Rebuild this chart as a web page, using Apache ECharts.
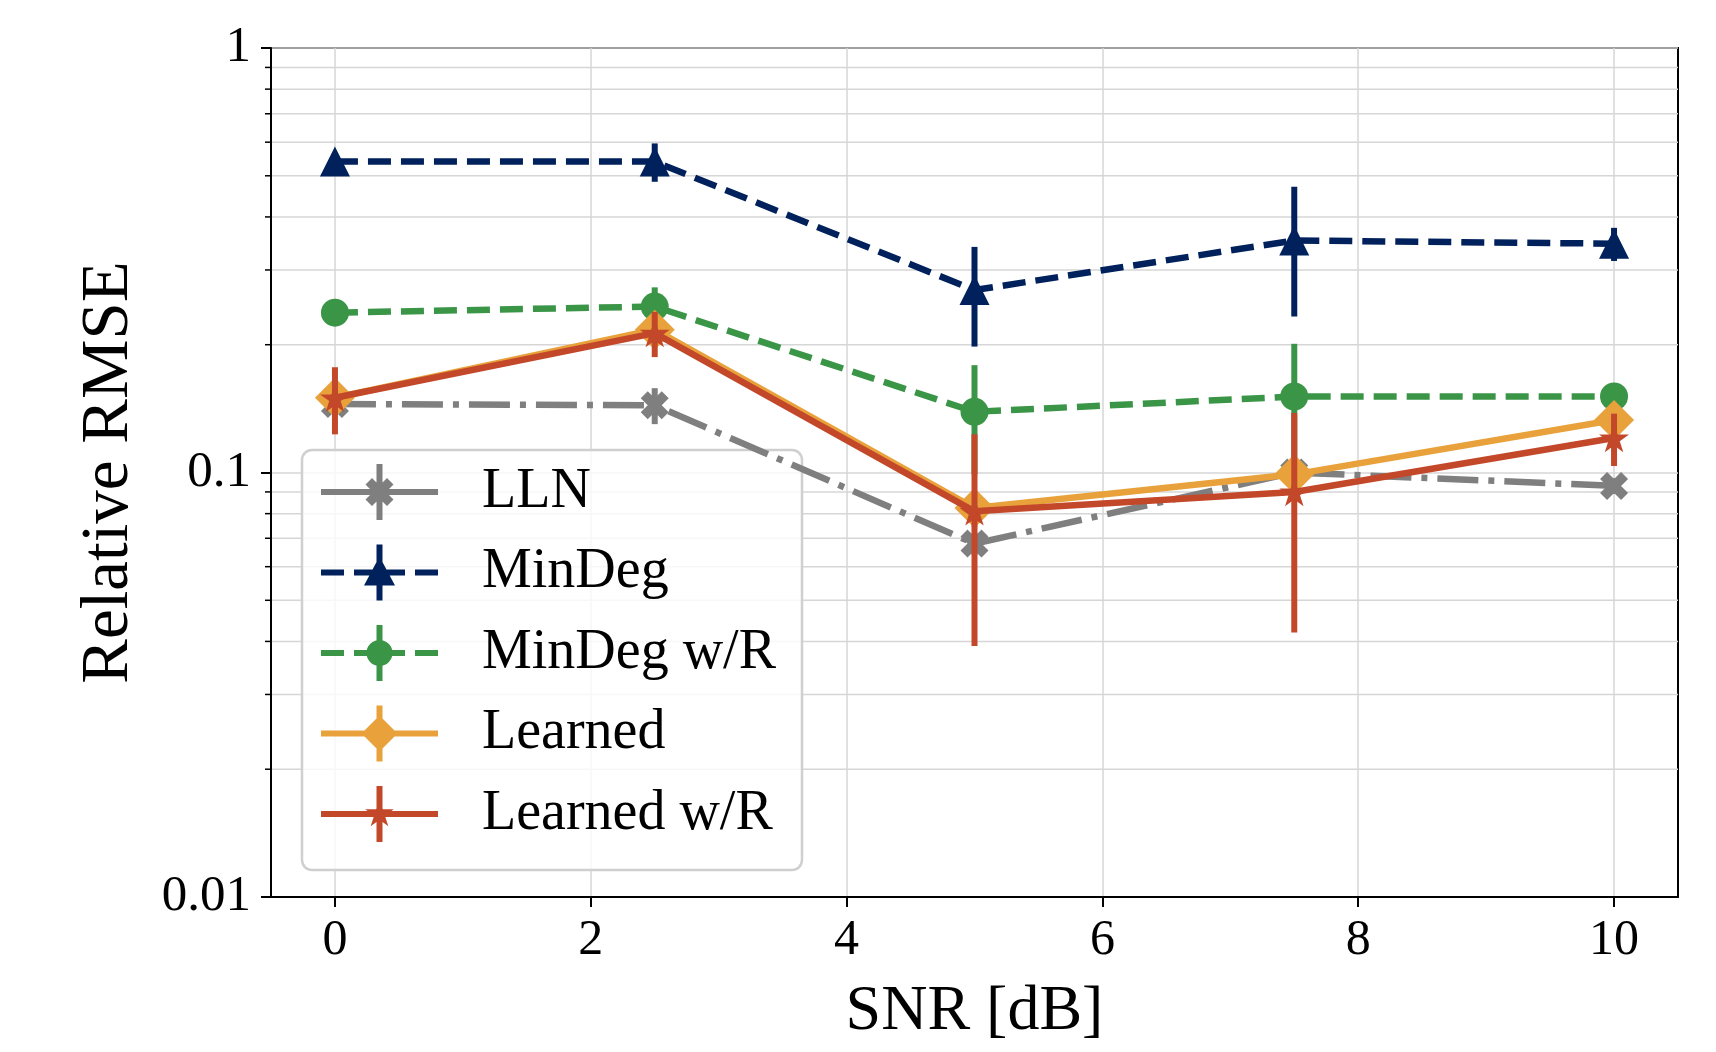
<!DOCTYPE html>
<html>
<head>
<meta charset="utf-8">
<script src="https://cdn.jsdelivr.net/npm/echarts@6/dist/echarts.min.js"></script>
<style>
  html, body { margin: 0; padding: 0; background: #fff; }
  #chart { width: 1716px; height: 1052px; }
</style>
</head>
<body>
<div id="chart"></div>
<script>
// x-Achse (SNR) und Messwerte
const snr = [0, 2.5, 5, 7.5, 10]
const xTicks = [0, 2, 4, 6, 8, 10]
const xMin = -0.5
const xMax = 10.5
const yMajor = [0.01, 0.1, 1]
const yMinor = [0.02, 0.03, 0.04, 0.05, 0.06, 0.07, 0.08, 0.09,
                0.2, 0.3, 0.4, 0.5, 0.6, 0.7, 0.8, 0.9]

const names = ['LLN', 'MinDeg', 'MinDeg w/R', 'Learned', 'Learned w/R']

const llnMean = [0.145, 0.144, 0.068, 0.100, 0.093]
const llnErr = [0.006, 0.014, 0.004, 0.006, 0.004]
const minDegMean = [0.54, 0.54, 0.269, 0.352, 0.346]
const minDegErr = [0.01, 0.056, 0.071, 0.119, 0.031]
const minDegRMean = [0.238, 0.246, 0.139, 0.151, 0.151]
const minDegRErr = [0.008, 0.027, 0.040, 0.050, 0.006]
const learnedMean = [0.150, 0.217, 0.0825, 0.099, 0.133]
const learnedErr = [0.010, 0.015, 0.008, 0.008, 0.008]
const learnedRMean = [0.150, 0.213, 0.081, 0.090, 0.1206]
const learnedRErr = [0.027, 0.026, 0.042, 0.048, 0.017]

const font = 'Liberation Serif'
const colors = ['#7f7f7f', '#00215b', '#3a9547', '#e9a23b', '#c3482a']

// merkit
const xPath = 'path://M25,0L50,25L75,0L100,25L75,50L100,75L75,100L50,75L25,100L0,75L25,50L0,25Z'
const starPath = 'path://M100,0L122.45,69.1L195.1,69.1L136.33,111.8L158.78,180.9L100,138.2L41.22,180.9L63.67,111.8L4.9,69.1L77.55,69.1Z'

// legendan ikonit: viiva + virhepalkki + merkki
const solidLine = 'M0,25L117,25L117,31L0,31Z'
const dashLine = 'M0,25L23,25L23,31L0,31Z M33,25L84,25L84,31L33,31Z M94,25L117,25L117,31L94,31Z'
const vBar = 'M55.5,0L61.5,0L61.5,56L55.5,56Z'
const icons = [
  'path://' + solidLine + ' ' + vBar + ' M51,14L58.5,21.5L66,14L72.5,20.5L65,28L72.5,35.5L66,42L58.5,34.5L51,42L44.5,35.5L52,28L44.5,20.5Z',
  'path://' + dashLine + ' ' + vBar + ' M58.5,12L74,41L43,41Z',
  'path://' + dashLine + ' ' + vBar + ' M45.5,28A13,13 0 1 1 71.5,28A13,13 0 1 1 45.5,28Z',
  'path://' + solidLine + ' ' + vBar + ' M58.5,10L76.5,28L58.5,46L40.5,28Z',
  'path://' + solidLine + ' ' + vBar + ' M58.5,13L61.87,23.36L72.77,23.36L63.95,29.77L67.32,40.14L58.5,33.73L49.68,40.14L53.05,29.77L44.23,23.36L55.13,23.36Z'
]

const means = [llnMean, minDegMean, minDegRMean, learnedMean, learnedRMean]
const errs = [llnErr, minDegErr, minDegRErr, learnedErr, learnedRErr]
const symbols = [xPath, 'triangle', 'circle', 'diamond', starPath]
const symbolSizes = [28, 30, 28, 40, 30]
const dashes = [[41, 10, 6, 10], [23, 10], [23, 10], 'solid', 'solid']

let myChart = echarts.init(document.getElementById('chart'))

let series = []

// sivuruudukko ja pienet tikit log-akselille
series.push({
  type: 'custom',
  silent: true,
  clip: false,
  z: 0,
  data: yMinor.map(v => [xMin, v]),
  encode: { x: 0, y: 1 },
  renderItem: function (params, api) {
    const p1 = api.coord([xMin, api.value(1)])
    const p2 = api.coord([xMax, api.value(1)])
    return {
      type: 'group',
      children: [
        { type: 'line', shape: { x1: p1[0], y1: p1[1], x2: p2[0], y2: p2[1] }, style: { stroke: '#d6d6d6', lineWidth: 1.5 } },
        { type: 'line', shape: { x1: p1[0] - 6, y1: p1[1], x2: p1[0], y2: p1[1] }, style: { stroke: '#000', lineWidth: 1.5 } }
      ]
    }
  }
})

names.forEach(function (name, i) {
  const color = colors[i]
  // virhepalkit
  series.push({
    type: 'custom',
    name: name,
    silent: true,
    z: 3 + i * 2,
    itemStyle: { color: color },
    data: snr.map((x, k) => [x, means[i][k] - errs[i][k], means[i][k] + errs[i][k]]),
    encode: { x: 0, y: [1, 2] },
    renderItem: function (params, api) {
      const top = api.coord([api.value(0), api.value(2)])
      const bot = api.coord([api.value(0), api.value(1)])
      return {
        type: 'line',
        shape: { x1: top[0], y1: top[1], x2: bot[0], y2: bot[1] },
        style: { stroke: color, lineWidth: 6 }
      }
    }
  })
  // viiva + merkit
  series.push({
    type: 'line',
    name: name,
    silent: true,
    z: 4 + i * 2,
    data: snr.map((x, k) => [x, means[i][k]]),
    symbol: symbols[i],
    symbolSize: symbolSizes[i],
    symbolKeepAspect: true,
    showSymbol: true,
    showAllSymbol: true,
    lineStyle: { color: color, width: 6.5, type: dashes[i] },
    itemStyle: { color: color, borderWidth: 0 },
    emphasis: { disabled: true }
  })
})

const option = {
  animation: false,
  backgroundColor: '#fff',
  grid: {
    left: 271, right: 38, top: 48, bottom: 155,
    show: true, borderColor: '#000', borderWidth: 2
  },
  legend: {
    orient: 'vertical',
    left: 302,
    top: 450,
    selectedMode: false,
    itemWidth: 117,
    itemHeight: 56,
    itemGap: 24.5,
    padding: [14, 26, 28, 19],
    backgroundColor: 'rgba(255,255,255,0.8)',
    borderColor: '#cfcfcf',
    borderWidth: 2.5,
    borderRadius: 10,
    itemStyle: { borderWidth: 0 },
    textStyle: { fontFamily: font, fontSize: 56, color: '#000', padding: [0, 0, 0, 39] },
    data: names.map((n, i) => ({ name: n, icon: icons[i] }))
  },
  xAxis: {
    type: 'value',
    min: xMin,
    max: xMax,
    name: 'SNR [dB]',
    nameLocation: 'middle',
    nameGap: 83,
    nameTextStyle: { fontFamily: font, fontSize: 64, color: '#000' },
    axisLine: { show: true, onZero: false, lineStyle: { color: '#000', width: 2 } },
    axisTick: { show: true, inside: false, length: 10, lineStyle: { color: '#000', width: 2 }, customValues: xTicks },
    axisLabel: { fontFamily: font, fontSize: 50, color: '#000', margin: 19, customValues: xTicks },
    splitLine: { show: true, lineStyle: { color: '#d6d6d6', width: 1.5 } }
  },
  yAxis: {
    type: 'log',
    logBase: 10,
    min: 0.01,
    max: 1,
    name: 'Relative RMSE',
    nameLocation: 'middle',
    nameGap: 128,
    nameTextStyle: { fontFamily: font, fontSize: 67, color: '#000' },
    axisLine: { show: true, onZero: false, lineStyle: { color: '#000', width: 2 } },
    axisTick: { show: true, inside: false, length: 10, lineStyle: { color: '#000', width: 2 } },
    axisLabel: {
      fontFamily: font, fontSize: 51, color: '#000', margin: 20,
      formatter: function (v) {
        const m = yMajor.find(t => Math.abs(t - v) < t * 1e-6)
        return m === undefined ? '' : String(m)
      }
    },
    splitLine: { show: true, lineStyle: { color: '#d6d6d6', width: 1.5 } }
  },
  series: series
}

myChart.setOption(option)
</script>
</body>
</html>
